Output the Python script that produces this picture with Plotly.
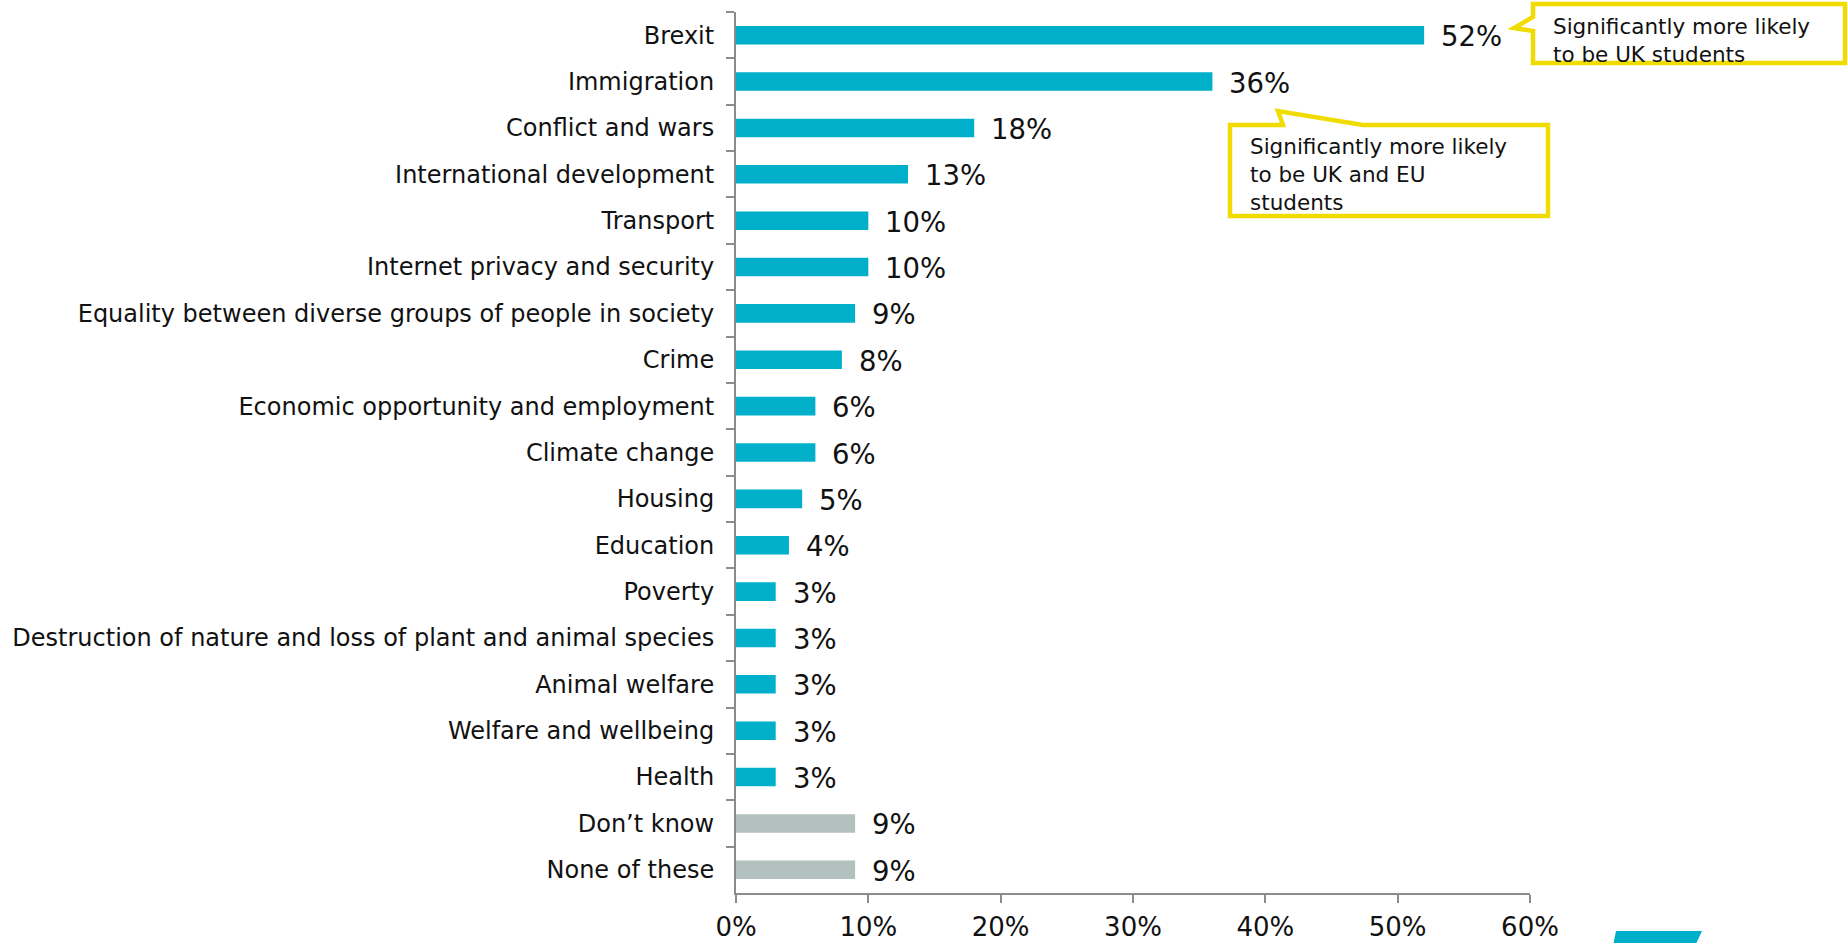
import plotly.graph_objects as go

# Issues respondents care about (share of respondents, %)
categories = [
    "Brexit",
    "Immigration",
    "Conflict and wars",
    "International development",
    "Transport",
    "Internet privacy and security",
    "Equality between diverse groups of people in society",
    "Crime",
    "Economic opportunity and employment",
    "Climate change",
    "Housing",
    "Education",
    "Poverty",
    "Destruction of nature and loss of plant and animal species",
    "Animal welfare",
    "Welfare and wellbeing",
    "Health",
    "Don\u2019t know",
    "None of these",
]
values = [52, 36, 18, 13, 10, 10, 9, 8, 6, 6, 5, 4, 3, 3, 3, 3, 3, 9, 9]
neutral_answers = ["Don\u2019t know", "None of these"]

x_ticks = [0, 10, 20, 30, 40, 50, 60]
x_tick_labels = ["0%", "10%", "20%", "30%", "40%", "50%", "60%"]

callout_brexit = "Significantly more likely<br>to be UK students"
callout_immigration = "Significantly more likely<br>to be UK and EU<br>students"

TEAL = "#00B0CA"
GREY = "#B2C1BD"
YELLOW = "#F0DC00"
AXIS = "#8C8C8C"
FONT = "DejaVu Sans"

W, H = 1848, 943
ML, MR, MT, MB = 736, 318, 12, 50
PW, PH = W - ML - MR, H - MT - MB


def px(x):
    return (x - ML) / PW


def py(y):
    return (H - MB - y) / PH


bar_colors = [GREY if c in neutral_answers else TEAL for c in categories]

fig = go.Figure(
    go.Bar(
        x=values,
        y=categories,
        orientation="h",
        marker=dict(color=bar_colors, line=dict(width=0)),
        width=0.4,
        hoverinfo="skip",
    )
)

# value labels beside each bar
for c, v in zip(categories, values):
    fig.add_annotation(
        x=v, y=c, text=f"{v}%", showarrow=False, xanchor="left",
        xshift=15, yshift=-1, font=dict(family=FONT, size=27.5, color="#111111"),
    )


def path(points):
    d = "M " + " L ".join(f"{px(a):.5f},{py(b):.5f}" for a, b in points) + " Z"
    return d


# callout for Brexit
fig.add_shape(
    type="path", xref="paper", yref="paper",
    path=path([(1533, 4), (1845, 4), (1845, 63), (1533, 63), (1533, 31),
               (1514, 28), (1533, 17)]),
    line=dict(color=YELLOW, width=4.5), fillcolor="white", layer="above",
)
fig.add_annotation(
    xref="paper", yref="paper", x=px(1551), y=py(40), xanchor="left", yanchor="middle",
    text=callout_brexit, showarrow=False, align="left",
    font=dict(family=FONT, size=21.5, color="#111111"),
)

# callout for Immigration
fig.add_shape(
    type="path", xref="paper", yref="paper",
    path=path([(1230, 125), (1283, 125), (1278, 111), (1363, 125), (1548, 125),
               (1548, 216), (1230, 216)]),
    line=dict(color=YELLOW, width=4.5), fillcolor="white", layer="above",
)
fig.add_annotation(
    xref="paper", yref="paper", x=px(1248), y=py(174), xanchor="left", yanchor="middle",
    text=callout_immigration, showarrow=False, align="left",
    font=dict(family=FONT, size=21.5, color="#111111"),
)

# brand mark in the lower right corner
fig.add_shape(
    type="path", xref="paper", yref="paper",
    path=path([(1616, 931), (1702, 931), (1695, 946), (1613, 946)]),
    line=dict(width=0), fillcolor=TEAL, layer="above",
)

fig.update_layout(
    width=W, height=H,
    margin=dict(l=ML, r=MR, t=MT, b=MB, autoexpand=False),
    plot_bgcolor="white", paper_bgcolor="white",
    showlegend=False,
    font=dict(family=FONT, color="#111111"),
    xaxis=dict(
        range=[0, 60], tickvals=x_ticks, ticktext=x_tick_labels,
        showgrid=False, zeroline=False,
        showline=True, linecolor=AXIS, linewidth=2,
        ticks="outside", ticklen=8, tickwidth=2, tickcolor=AXIS,
        tickfont=dict(family=FONT, size=26, color="#111111"),
        ticklabelstandoff=2,
        fixedrange=True,
    ),
    yaxis=dict(
        categoryorder="array", categoryarray=categories,
        autorange="reversed",
        showgrid=False, zeroline=False,
        showline=True, linecolor=AXIS, linewidth=2,
        ticks="outside", ticklen=8, tickwidth=2, tickcolor=AXIS,
        tickson="boundaries",
        tickfont=dict(family=FONT, size=24, color="#111111"),
        ticklabelstandoff=15,
        fixedrange=True,
    ),
    bargap=0.6,
)

fig.write_html("out.html")
